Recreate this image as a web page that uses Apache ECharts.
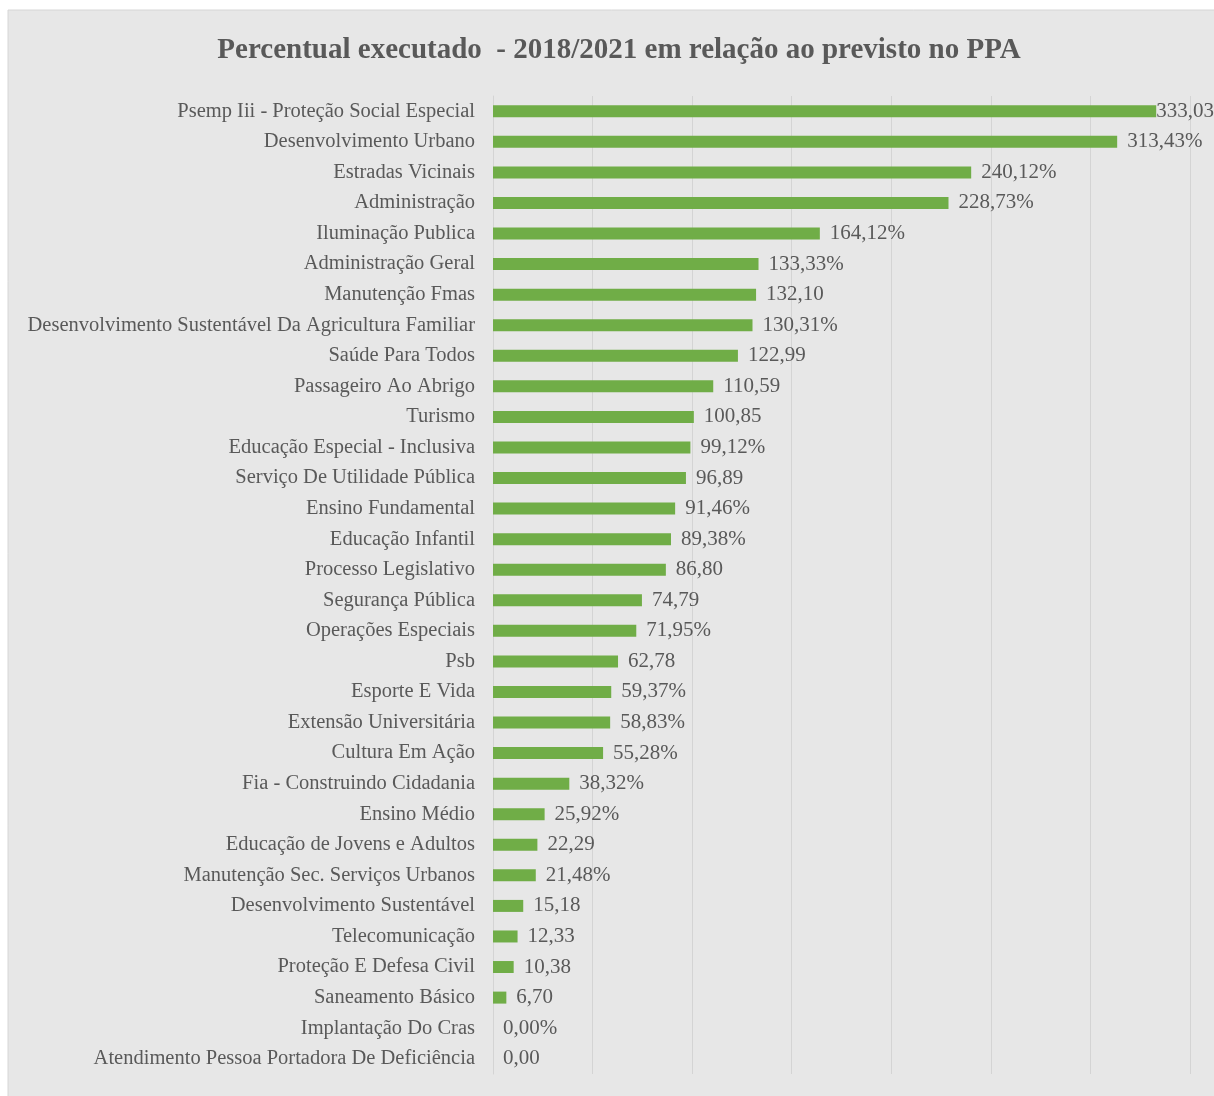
<!DOCTYPE html>
<html>
<head>
<meta charset="utf-8" />
<title>Percentual executado</title>
<script src="https://cdn.jsdelivr.net/npm/echarts@6/dist/echarts.min.js"></script>
<style>
  html, body { margin: 0; padding: 0; background: #fff; }
</style>
</head>
<body>
<div id="main" style="width:1214px;height:1096px;"></div>
<script type="text/javascript">
// categorias (de cima para baixo)
var categories = [
  'Psemp Iii - Proteção Social Especial',
  'Desenvolvimento Urbano',
  'Estradas Vicinais',
  'Administração',
  'Iluminação Publica',
  'Administração Geral',
  'Manutenção Fmas',
  'Desenvolvimento Sustentável Da Agricultura Familiar',
  'Saúde Para Todos',
  'Passageiro Ao Abrigo',
  'Turismo',
  'Educação Especial - Inclusiva',
  'Serviço De Utilidade Pública',
  'Ensino Fundamental',
  'Educação Infantil',
  'Processo Legislativo',
  'Segurança Pública',
  'Operações Especiais',
  'Psb',
  'Esporte E Vida',
  'Extensão Universitária',
  'Cultura Em Ação',
  'Fia - Construindo Cidadania',
  'Ensino Médio',
  'Educação de Jovens e Adultos',
  'Manutenção Sec. Serviços Urbanos',
  'Desenvolvimento Sustentável',
  'Telecomunicação',
  'Proteção E Defesa Civil',
  'Saneamento Básico',
  'Implantação Do Cras',
  'Atendimento Pessoa Portadora De Deficiência'
];
// percentual executado
var values = [
  333.03, 313.43, 240.12, 228.73, 164.12, 133.33, 132.10, 130.31,
  122.99, 110.59, 100.85, 99.12, 96.89, 91.46, 89.38, 86.80,
  74.79, 71.95, 62.78, 59.37, 58.83, 55.28, 38.32, 25.92,
  22.29, 21.48, 15.18, 12.33, 10.38, 6.70, 0.00, 0.00
];
// rótulos que aparecem com "%"
var withPct = [
  0, 1, 1, 1, 1, 1, 0, 1,
  0, 0, 0, 1, 0, 1, 1, 0,
  0, 1, 0, 1, 1, 1, 1, 1,
  0, 1, 0, 0, 0, 0, 1, 0
];

var fontFam = '"Liberation Serif", "DejaVu Serif", serif';
var txtColor = '#595959';

var barData = values.map(function (v, i) {
  var item = { value: v };
  if (i === 0) item.label = { distance: 0 };
  return item;
});

var myChart = echarts.init(document.getElementById('main'));
var option = {
  backgroundColor: '#ffffff',
  animation: false,
  graphic: [{
    type: 'rect',
    z: -10,
    shape: { x: 8, y: 10, width: 1214, height: 1100 },
    style: { fill: '#e7e7e7', stroke: '#d6d6d6', lineWidth: 1 }
  }],
  title: {
    text: 'Percentual executado  - 2018/2021 em relação ao previsto no PPA',
    left: 614,
    textAlign: 'center',
    top: 31,
    textStyle: {
      fontFamily: fontFam,
      fontSize: 29,
      fontWeight: 'bold',
      color: txtColor
    }
  },
  grid: {
    left: 493,
    right: 24,
    top: 96,
    bottom: 22,
    containLabel: false
  },
  xAxis: {
    type: 'value',
    min: 0,
    max: 350,
    interval: 50,
    axisLabel: { show: false },
    axisLine: { show: false },
    axisTick: { show: false },
    splitLine: { lineStyle: { color: '#d4d4d4', width: 1 } }
  },
  yAxis: {
    type: 'category',
    inverse: true,
    data: categories,
    axisLine: { show: true, lineStyle: { color: '#d4d4d4' } },
    axisTick: { show: false },
    axisLabel: {
      margin: 18,
      fontFamily: fontFam,
      fontSize: 20.5,
      color: txtColor
    }
  },
  series: [{
    type: 'bar',
    data: barData,
    barWidth: 12,
    itemStyle: { color: '#70ad47' },
    label: {
      show: true,
      position: 'right',
      distance: 10,
      fontFamily: fontFam,
      fontSize: 21,
      color: txtColor,
      formatter: function (p) {
        return p.value.toFixed(2).replace('.', ',') + (withPct[p.dataIndex] ? '%' : '');
      }
    }
  }]
};
myChart.setOption(option);
</script>
</body>
</html>
